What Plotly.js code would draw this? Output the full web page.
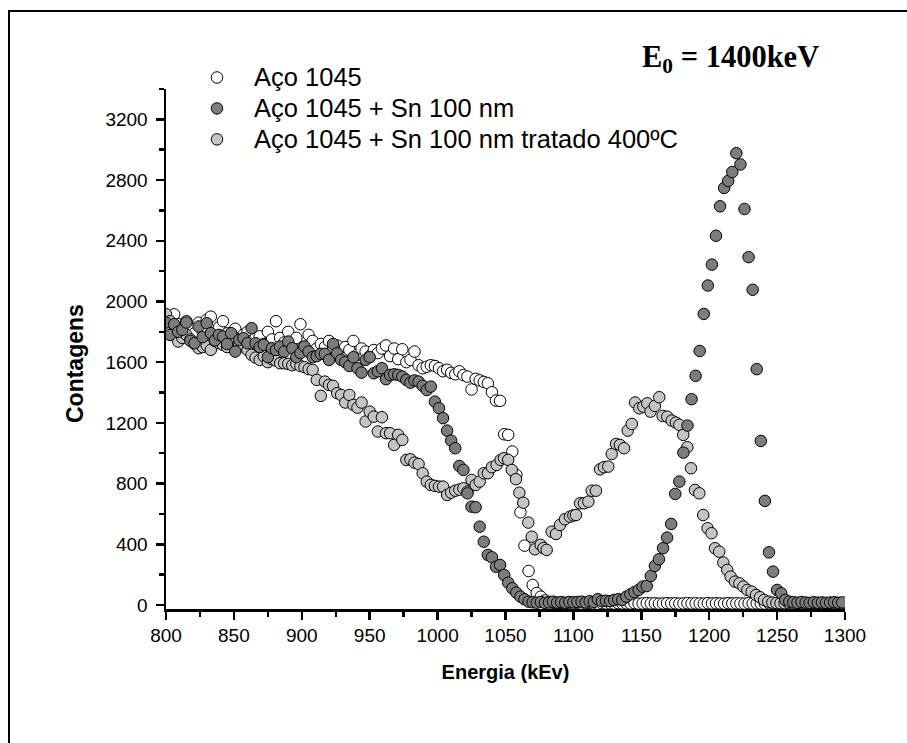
<!DOCTYPE html>
<html><head><meta charset="utf-8">
<script src="https://cdn.plot.ly/plotly-3.0.1.min.js"></script>
<style>html,body{margin:0;padding:0;background:#fff}#chart{width:907px;height:743px}</style>
</head><body><div id="chart"></div>
<script>
// Shared energy channels (keV) for "Aço 1045" and "Aço 1045 + Sn 100 nm"
const energia = [
800,803,806,809,812,815,818,821,824,827,
830,833,836,839,842,845,848,851,854,857,
860,863,866,869,872,875,878,881,884,887,
890,893,896,899,902,905,908,911,914,917,
920,923,926,929,932,935,938,941,944,947,
950,953,956,959,962,965,968,971,974,977,
980,983,986,989,992,995,998,1001,1004,1007,
1010,1013,1016,1019,1022,1025,1028,1031,1034,1037,
1040,1043,1046,1049,1052,1055,1058,1061,1064,1067,
1070,1073,1076,1079,1082,1085,1088,1091,1094,1097,
1100,1103,1106,1109,1112,1115,1118,1121,1124,1127,
1130,1133,1136,1139,1142,1145,1148,1151,1154,1157,
1160,1163,1166,1169,1172,1175,1178,1181,1184,1187,
1190,1193,1196,1199,1202,1205,1208,1211,1214,1217,
1220,1223,1226,1229,1232,1235,1238,1241,1244,1247,
1250,1253,1256,1259,1262,1265,1268,1271,1274,1277,
1280,1283,1286,1289,1292,1295,1298];

const contagensAco = [
1900,1880,1915,1850,1800,1870,1820,1790,1860,1810,
1880,1900,1770,1830,1870,1790,1760,1820,1750,1780,
1800,1740,1760,1770,1720,1800,1750,1870,1760,1730,
1800,1710,1760,1850,1700,1780,1740,1690,1720,1700,
1740,1690,1710,1660,1700,1680,1740,1650,1690,1670,
1640,1680,1660,1690,1710,1640,1690,1620,1685,1600,
1615,1670,1580,1560,1570,1580,1575,1560,1540,1550,
1530,1520,1540,1515,1505,1420,1490,1480,1470,1461,
1402,1347,1345,1125,1121,1011,857,611,391,224,
132,79,55,30,20,15,12,14,10,12,
10,12,9,11,13,10,8,12,10,11,
9,12,10,11,10,13,9,10,12,10,
11,9,10,12,10,11,9,10,12,10,
11,10,9,12,10,11,10,9,12,10,
11,10,9,12,10,11,10,9,11,10,
10,11,9,12,10,11,10,9,11,10,
10,11,9,12,10,11,10];

const contagensSn = [
1861,1780,1850,1800,1813,1861,1740,1725,1835,1765,
1857,1791,1743,1780,1769,1720,1791,1670,1747,1758,
1725,1824,1725,1700,1714,1633,1692,1680,1703,1670,
1736,1692,1633,1660,1703,1670,1633,1640,1655,1655,
1615,1720,1659,1615,1600,1575,1633,1560,1531,1615,
1633,1527,1540,1560,1488,1516,1520,1516,1505,1483,
1465,1480,1472,1444,1417,1439,1340,1297,1231,1149,
1083,1033,916,890,736,648,644,516,417,330,
314,252,264,198,147,110,81,55,38,22,
18,15,20,14,17,22,16,19,15,20,
18,20,22,17,25,20,38,25,28,26,
33,38,33,55,70,85,99,121,125,191,
257,301,374,444,534,732,813,1004,1182,1356,
1510,1674,1918,2105,2243,2433,2627,2748,2794,2853,
2977,2903,2609,2292,2077,1554,1081,686,347,220,
99,77,33,22,18,15,20,16,14,18,
15,17,14,16,18,15,17];

// "Aço 1045 + Sn 100 nm tratado 400ºC"
const energiaTratado = [
800,803,806,809,812,815,818,821,824,827,
830,833,836,839,842,845,848,851,854,857,
860,863,866,869,872,875,878,881,884,887,
890,893,896,899,902,905,908,911,914,917,
920,923,926,929,932,935,938,941,944,947,
950,953,956,959,962,965,968,971,974,977,
980,983,986,989,992,995,998,1001,1004,1007,
1010,1013,1016,1019,1022,1025,1028,1031,1034,1037,
1040,1043.5,1046.4,1048.9,1052,1054.6,1057.7,1060.2,1063.1,1066.8,
1069.3,1071.7,1075.9,1078,1080.3,1084,1087.2,1090.1,1093.8,1097.5,
1100,1101.9,1104.9,1107.8,1111,1113.5,1116.6,1119.6,1122.5,1125.7,
1128.2,1131.4,1134.3,1137.3,1140,1143,1145.4,1148.5,1151.5,1154.4,
1156.8,1160,1163.2,1165.7,1169.1,1172.4,1175.5,1178,1180.9,1183.9,
1186.6,1189.5,1192.7,1195.6,1198.8,1201.7,1204.3,1207.4,1210.4,1213.3,
1215.8,1219,1222.2,1225.2,1228.1,1231.3,1234.5,1237.4,1240.4,1243.5,
1246.5,1249.5,1252.5,1255.5,1258.5,1261.5,1264.5,1267.5,1270.5,1273.5,
1276.5,1279.5,1282.5,1285.5,1288.5,1291.5,1294.5,1297.5];

const contagensTratado = [
1916,1870,1800,1736,1760,1780,1750,1720,1692,1700,
1710,1681,1740,1725,1714,1700,1740,1758,1720,1703,
1680,1648,1630,1615,1640,1600,1620,1610,1593,1593,
1589,1580,1589,1575,1567,1555,1549,1483,1378,1472,
1450,1444,1396,1384,1334,1384,1318,1300,1334,1209,
1274,1241,1143,1237,1132,1132,1055,1121,1088,956,
960,938,929,868,813,791,785,780,780,725,
740,753,760,769,747,824,791,813,868,868,
908,923,956,967,956,890,829,740,674,543,
450,367,396,375,363,483,468,527,565,582,
590,593,670,670,681,753,753,894,908,912,
995,1061,1055,1033,1149,1193,1334,1296,1307,1329,
1274,1312,1369,1246,1241,1215,1202,1187,1121,1040,
901,758,736,593,506,473,374,351,279,231,
187,154,143,121,99,88,66,51,33,22,
16,13,12,11,12,10,11,12,10,11,
12,10,11,10,12,11,10,11];

const nomes = ['Aço 1045', 'Aço 1045 + Sn 100 nm', 'Aço 1045 + Sn 100 nm tratado 400ºC'];
const yTicks = [0,400,800,1200,1600,2000,2400,2800,3200];
const xTicks = [800,850,900,950,1000,1050,1100,1150,1200,1250,1300];

// layout geometry (pixels)
const W = 907, H = 743, L = 166, R = 62, T = 89, B = 134;
const pw = W - L - R, ph = H - T - B;
const px = x => (x - L) / pw;
const py = y => (H - B - y) / ph;

function mk(color){
  return {symbol:'circle', size:11.5, color:color, line:{color:'#000', width:1}};
}
const big = s => '<span style="font-size:25.5px">' + s + '</span>';

const traces = [
  {x: energia, y: contagensAco, name: big(nomes[0]), type:'scatter', mode:'markers',
   marker: mk('#ffffff'), legendrank: 1},
  {x: energiaTratado, y: contagensTratado, name: big(nomes[2]), type:'scatter', mode:'markers',
   marker: mk('#c4c4c4'), legendrank: 3},
  {x: energia, y: contagensSn, name: big(nomes[1]), type:'scatter', mode:'markers',
   marker: mk('#7c7c7c'), legendrank: 2}
];

const tickFont = {family:'Liberation Sans, Arial, sans-serif', size:19, color:'#000'};

const layout = {
  width: W, height: H,
  margin: {l:L, r:R, t:T, b:B, pad:0},
  paper_bgcolor:'#fff', plot_bgcolor:'#fff',
  showlegend: true,
  legend: {x: px(180), y: py(57), xanchor:'left', yanchor:'top',
    font:{family:'Liberation Sans, Arial, sans-serif', size:21.5, color:'#000'},
    itemwidth: 64, bgcolor:'rgba(0,0,0,0)', borderwidth:0, tracegroupgap:0},
  xaxis: {range:[800,1300], tickmode:'array', tickvals:xTicks, ticktext:xTicks.map(String),
    ticks:'outside', ticklen:8, tickwidth:2.5, tickcolor:'#000',
    showline:true, linecolor:'#000', linewidth:3, showgrid:false, zeroline:false,
    tickfont: tickFont, ticklabelstandoff: -1,
    minor:{dtick:25, tick0:800, ticks:'outside', ticklen:5, tickwidth:2.5, tickcolor:'#000', showgrid:false},
    title:{text:'<b>Energia (kEv)</b>', font:{family:'Liberation Sans, Arial, sans-serif', size:20, color:'#000'}, standoff:21}
  },
  yaxis: {range:[-26.4,3400], tickmode:'array', tickvals:yTicks, ticktext:yTicks.map(String),
    ticks:'outside', ticklen:8, tickwidth:2.5, tickcolor:'#000',
    showline:true, linecolor:'#000', linewidth:2.5, showgrid:false, zeroline:false,
    tickfont: tickFont, ticklabelstandoff: 4,
    minor:{dtick:200, tick0:0, ticks:'outside', ticklen:5, tickwidth:2.5, tickcolor:'#000', showgrid:false}
  },
  annotations: [
    {xref:'paper', yref:'paper', x: px(75), y: py(364), xanchor:'center', yanchor:'middle',
     text:'<b>Contagens</b>', textangle:-90, showarrow:false,
     font:{family:'Liberation Sans, Arial, sans-serif', size:23, color:'#000'}},
    {xref:'paper', yref:'paper', x: px(640), y: py(59), xanchor:'left', yanchor:'middle',
     text:'<b>E<sub>0</sub> = 1400keV</b>', showarrow:false,
     font:{family:'Liberation Serif, Times New Roman, serif', size:30.5, color:'#000'}}
  ],
  shapes: [
    {type:'line', xref:'paper', yref:'paper', x0: px(8), x1: px(912), y0: py(11), y1: py(11), line:{color:'#000', width:2}},
    {type:'line', xref:'paper', yref:'paper', x0: px(9), x1: px(9), y0: py(10), y1: py(750), line:{color:'#000', width:2}}
  ]
};

Plotly.newPlot('chart', traces, layout, {displayModeBar:false, staticPlot:true});
</script>
</body></html>
